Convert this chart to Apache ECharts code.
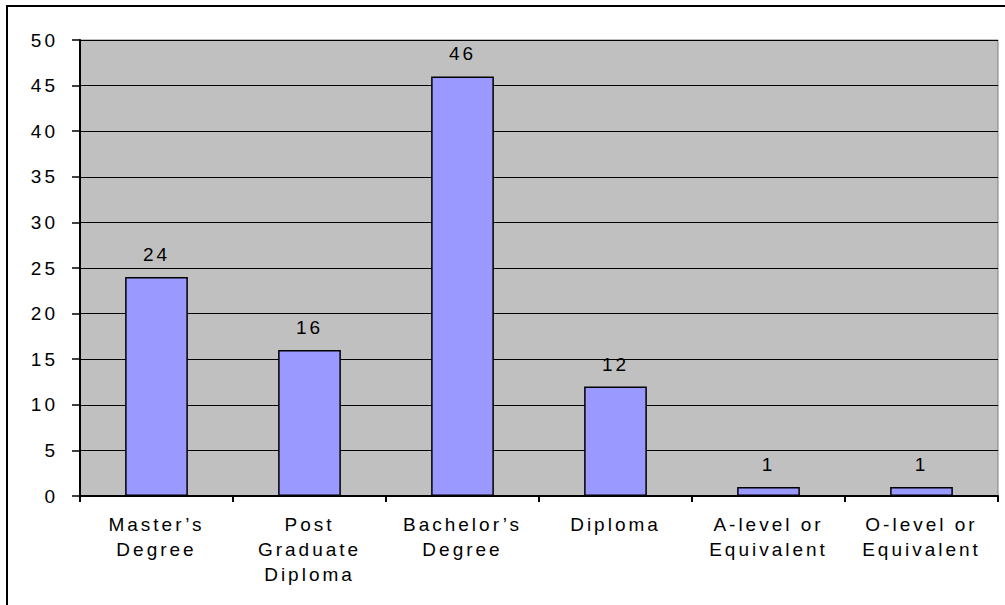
<!DOCTYPE html>
<html>
<head>
<meta charset="utf-8">
<script src="https://cdn.jsdelivr.net/npm/echarts@6/dist/echarts.min.js"></script>
<style>
  html, body { margin: 0; padding: 0; background: #fff; }
  #chart { width: 1005px; height: 605px; }
  /* wide, airy lettering for every label */
  #chart svg text { letter-spacing: 3px; }
</style>
</head>
<body>
<div id="chart"></div>
<script>
// Highest qualification held by respondents
const categories = [
  "Master\u2019s\nDegree",
  "Post\nGraduate\nDiploma",
  "Bachelor\u2019s\nDegree",
  "Diploma",
  "A-level or\nEquivalent",
  "O-level or\nEquivalent"
];
const counts = [24, 16, 46, 12, 1, 1];
const yTicks = { min: 0, max: 50, interval: 5 };

const font = "'Liberation Sans', Arial, sans-serif";
const chart = echarts.init(document.getElementById('chart'), null, { renderer: 'svg' });

chart.setOption({
  animation: false,
  backgroundColor: '#ffffff',
  graphic: [{
    type: 'rect',
    shape: { x: 7, y: 6, width: 1010, height: 610 },
    style: { fill: 'none', stroke: '#000', lineWidth: 2 },
    silent: true
  }],
  grid: {
    left: 80, right: 7, top: 40, bottom: 109,
    show: true,
    backgroundColor: '#c0c0c0',
    borderColor: '#808080',
    borderWidth: 1
  },
  xAxis: {
    type: 'category',
    data: categories,
    axisLine: { lineStyle: { color: '#000', width: 2 } },
    axisTick: { show: true, length: 6, lineStyle: { color: '#000', width: 2 } },
    axisLabel: {
      color: '#000', fontFamily: font, fontSize: 19, lineHeight: 25,
      margin: 16, interval: 0
    }
  },
  yAxis: {
    type: 'value',
    min: yTicks.min, max: yTicks.max, interval: yTicks.interval,
    axisLine: { show: true, lineStyle: { color: '#000', width: 2 } },
    axisTick: { show: true, length: 8, lineStyle: { color: '#000', width: 1.5 } },
    axisLabel: { color: '#000', fontFamily: font, fontSize: 19, margin: 22 },
    splitLine: { show: true, lineStyle: { color: '#000', width: 1 } }
  },
  series: [{
    type: 'bar',
    data: counts,
    barWidth: '41%',
    itemStyle: { color: '#9999ff', borderColor: '#000', borderWidth: 1.5 },
    label: {
      show: true, position: 'top', distance: 13,
      color: '#000', fontFamily: font, fontSize: 19
    }
  }]
});
</script>
</body>
</html>
